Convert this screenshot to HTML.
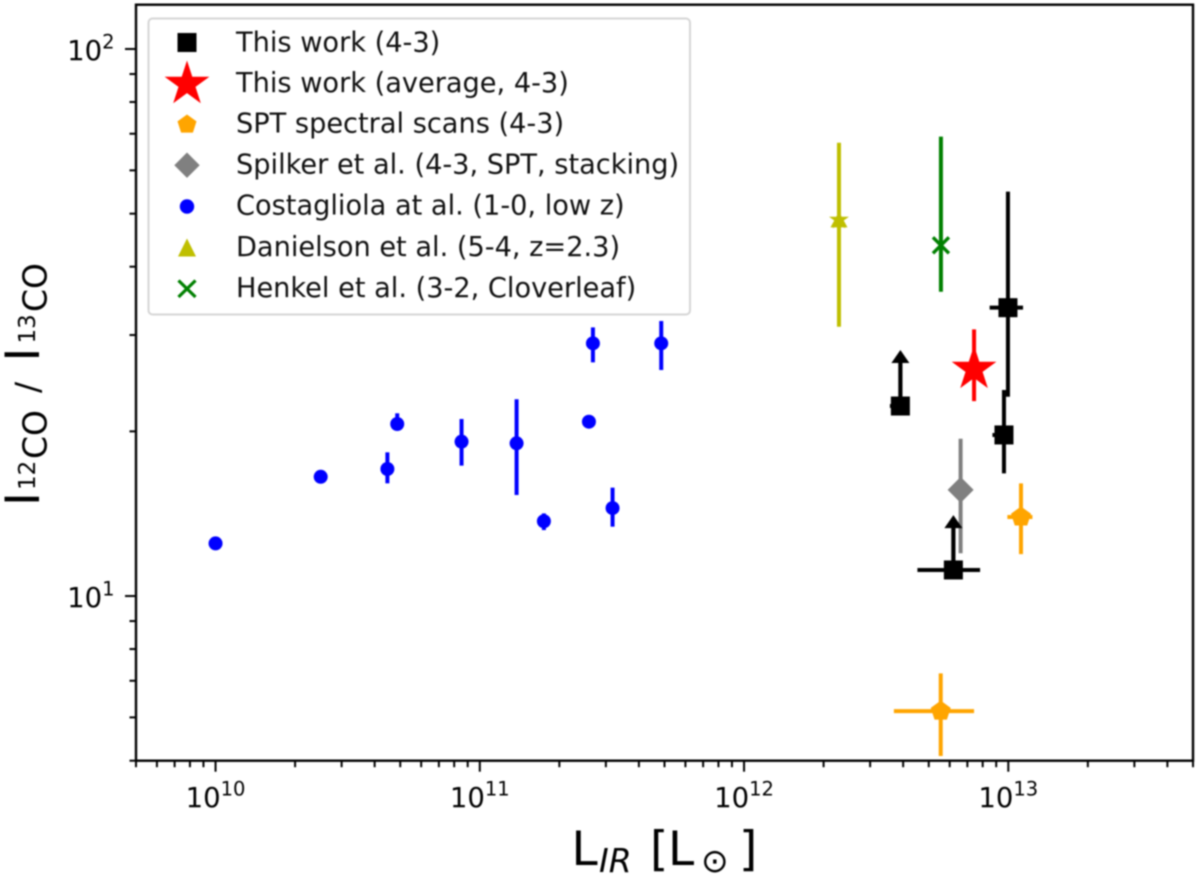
<!DOCTYPE html>
<html lang="en">
<head>
<meta charset="utf-8">
<title>12CO / 13CO ratio versus infrared luminosity</title>
<style>
html,body{margin:0;padding:0;background:#fff;}
svg{display:block;filter:blur(0.7px);}
text{font-family:"DejaVu Sans","Liberation Sans",sans-serif;fill:#000;}
.leg text{font-size:27.2px;fill:#111;}
</style>
</head>
<body>
<svg id="chart" width="1200" height="879" viewBox="0 0 1200 879" xmlns="http://www.w3.org/2000/svg">
  <rect x="0" y="0" width="1200" height="879" fill="#fff"/>
  <g id="ticks"></g>
  <g id="marks"></g>
  <rect x="136" y="4.7" width="1057" height="756" fill="none" stroke="#000" stroke-width="2.4"/>

  <g class="leg">
    <rect x="148.5" y="18.5" width="541.5" height="296" rx="4" fill="#fff" fill-opacity="0.9" stroke="#d5d5d5" stroke-width="2"/>
    <g>
      <rect x="177.5" y="33" width="19" height="19" fill="#000"/>
      <text x="236" y="51.5">This work (4-3)</text>
    </g>
    <g>
      <polygon fill="#f00" points="187,60.5 192.3,76.8 209.4,76.8 195.5,86.9 200.8,103.2 187,93.1 173.2,103.2 178.5,86.9 164.6,76.8 181.7,76.8"/>
      <text x="236" y="92">This work (average, 4-3)</text>
    </g>
    <g>
      <polygon fill="#ffa500" points="187,114.5 196.5,121.4 192.9,132.6 181.1,132.6 177.5,121.4"/>
      <text x="236" y="132.5">SPT spectral scans (4-3)</text>
    </g>
    <g>
      <polygon fill="#808080" points="187,152.5 199.7,165.2 187,177.9 174.3,165.2"/>
      <text x="236" y="173.5">Spilker et al. (4-3, SPT, stacking)</text>
    </g>
    <g>
      <circle cx="187" cy="206.5" r="7.2" fill="#00f"/>
      <text x="236" y="214.5">Costagliola at al. (1-0, low z)</text>
    </g>
    <g>
      <polygon fill="#bfbf00" points="187,238.5 196,256.5 178,256.5"/>
      <text x="236" y="256">Danielson et al. (5-4, z=2.3)</text>
    </g>
    <g>
      <path d="M178.5,280.5 L195.5,297 M195.5,280.5 L178.5,297" stroke="#008000" stroke-width="3.2" fill="none"/>
      <text x="236" y="297">Henkel et al. (3-2, Cloverleaf)</text>
    </g>
  </g>

  <text y="865" font-size="47">
    <tspan x="571.5">L</tspan><tspan x="599" y="872" font-size="33" font-style="italic">IR</tspan><tspan x="650" y="865">[</tspan><tspan x="668">L</tspan><tspan x="701" y="872" font-size="33">⊙</tspan><tspan x="739" y="865">]</tspan>
  </text>
  <text transform="rotate(-90)">
    <tspan x="-506" y="39" font-size="47">I</tspan><tspan x="-490" y="35" font-size="23">12</tspan><tspan x="-459" y="46.5" font-size="33">CO</tspan><tspan x="-393" y="39" font-size="33">/</tspan><tspan x="-361.5" y="39" font-size="47">I</tspan><tspan x="-343.5" y="35" font-size="23">13</tspan><tspan x="-312" y="46.5" font-size="33">CO</tspan>
  </text>
</svg>

<script>
// Axis domains and tick labels
const xDomain = [5e9, 5e13];
const yDomain = [5, 120.5];
const xTickExponents = [10, 11, 12, 13];
const yTickExponents = [1, 2];
const minorMultipliers = [2, 3, 4, 5, 6, 7, 8, 9];

// This work (4-3)
const workX = [9.97e12, 9.63e12, 3.905e12, 6.197e12];
const workY = [33.66, 19.70, 22.25, 11.16];
const workYLow = [23.14, 16.76, 22.25, 11.16];
const workYHigh = [54.85, 23.80, 22.25, 11.16];
const workXLow = [8.50e12, 8.71e12, 3.565e12, 4.53e12];
const workXHigh = [1.137e13, 1.0e13, 4.09e12, 7.82e12];
const workLowerLimitTo = [null, null, 28.17, 14.06];

// This work (average)
const averageX = [7.42e12];
const averageY = [26.25];
const averageYLow = [22.72];
const averageYHigh = [30.73];

// SPT spectral scans
const sptX = [1.117e13, 5.55e12];
const sptY = [13.95, 6.16];
const sptYLow = [11.93, 5.10];
const sptYHigh = [16.07, 7.22];
const sptXLow = [9.92e12, 3.69e12];
const sptXHigh = [1.234e13, 7.42e12];

// Spilker et al.
const spilkerX = [6.60e12];
const spilkerY = [15.63];
const spilkerYLow = [11.97];
const spilkerYHigh = [19.39];

// Costagliola et al.
const costaX = [1.0e10, 2.5e10, 4.47e10, 4.87e10, 8.53e10, 1.378e11, 1.748e11, 2.588e11, 3.18e11, 2.68e11, 4.86e11];
const costaY = [12.48, 16.52, 17.07, 20.63, 19.15, 19.02, 13.70, 20.83, 14.48, 28.97, 28.97];
const costaYLow = [12.48, 16.52, 16.07, 20.12, 17.31, 15.30, 13.20, 20.83, 13.39, 26.74, 25.89];
const costaYHigh = [12.48, 16.52, 18.31, 21.58, 21.07, 22.89, 14.16, 20.83, 15.78, 30.98, 31.82];

// Danielson et al.
const danielsonX = [2.287e12];
const danielsonY = [48.7];
const danielsonYLow = [31.06];
const danielsonYHigh = [67.4];

// Henkel et al.
const henkelX = [5.56e12];
const henkelY = [43.77];
const henkelYLow = [35.99];
const henkelYHigh = [69.14];

const NS = 'http://www.w3.org/2000/svg';
const LEFT = 136, RIGHT = 1193, TOP = 4.7, BOTTOM = 760.7;
function xScale(v) {
  const a = Math.log10(xDomain[0]), b = Math.log10(xDomain[1]);
  return LEFT + (Math.log10(v) - a) / (b - a) * (RIGHT - LEFT);
}
function yScale(v) {
  const a = Math.log10(yDomain[0]), b = Math.log10(yDomain[1]);
  return BOTTOM - (Math.log10(v) - a) / (b - a) * (BOTTOM - TOP);
}
function node(tag, parent) {
  const el = document.createElementNS(NS, tag);
  parent.appendChild(el);
  return el;
}
function seg(parent, x1, y1, x2, y2, color, width) {
  const el = node('line', parent);
  el.setAttribute('x1', x1);
  el.setAttribute('y1', y1);
  el.setAttribute('x2', x2);
  el.setAttribute('y2', y2);
  el.setAttribute('stroke', color);
  el.setAttribute('stroke-width', width);
  return el;
}
function regular(cx, cy, r, n, rot) {
  const p = [];
  for (let i = 0; i < n; i++) {
    const t = rot + i * 2 * Math.PI / n;
    p.push((cx + r * Math.sin(t)).toFixed(2) + ',' + (cy - r * Math.cos(t)).toFixed(2));
  }
  return p.join(' ');
}
function star(cx, cy, r) {
  const p = [];
  for (let i = 0; i < 10; i++) {
    const q = i % 2 ? r * 0.382 : r;
    const t = i * Math.PI / 5;
    p.push((cx + q * Math.sin(t)).toFixed(2) + ',' + (cy - q * Math.cos(t)).toFixed(2));
  }
  return p.join(' ');
}

// Ticks
const ticks = document.getElementById('ticks');
for (let e = 9; e <= 13; e++) {
  const vals = [1].concat(minorMultipliers).map(m => m * Math.pow(10, e));
  vals.forEach((v, i) => {
    if (v < xDomain[0] * 0.999 || v > xDomain[1] * 1.001) return;
    const px = xScale(v);
    const t = seg(ticks, px, BOTTOM, px, BOTTOM + (i === 0 ? 11 : 6.5), '#000', 2);
    
    
  });
}
for (let e = 0; e <= 2; e++) {
  const vals = [1].concat(minorMultipliers).map(m => m * Math.pow(10, e));
  vals.forEach((v, i) => {
    if (v < yDomain[0] * 0.999 || v > yDomain[1] * 1.001) return;
    const py = yScale(v);
    const t = seg(ticks, LEFT, py, LEFT - (i === 0 ? 11 : 6.5), py, '#000', 2);
    
    
  });
}
function powerLabel(parent, exp, x, y, anchor) {
  const el = node('text', parent);
  el.setAttribute('x', x);
  el.setAttribute('y', y);
  el.setAttribute('text-anchor', anchor);
  el.setAttribute('font-size', '27.5');
  el.appendChild(document.createTextNode('10'));
  const s = node('tspan', el);
  s.setAttribute('font-size', '19.5');
  s.setAttribute('dy', '-11.5');
  s.textContent = String(exp);
  return el;
}
xTickExponents.forEach(exp => {
  const l = powerLabel(ticks, exp, xScale(Math.pow(10, exp)), 807, 'middle');
  
  
});
yTickExponents.forEach(exp => {
  const l = powerLabel(ticks, exp, 114.5, yScale(Math.pow(10, exp)) + 11, 'end');
  
  
});

// Series
const marks = document.getElementById('marks');
function errorBars(g, i, color, xs, ys, yLow, yHigh, xLow, xHigh) {
  const px = xScale(xs[i]), py = yScale(ys[i]);
  const v = seg(g, px, yScale(yLow[i]), px, yScale(yHigh[i]), color, 4);
  
  
  if (xLow) {
    const h = seg(g, xScale(xLow[i]), py, xScale(xHigh[i]), py, color, 4);
    
    
  }
}

// Costagliola
const costaGroup = node('g', marks);


costaX.forEach((x, i) => {
  errorBars(costaGroup, i, '#00f', costaX, costaY, costaYLow, costaYHigh);
  const c = node('circle', costaGroup);
  
  
  c.setAttribute('cx', xScale(x));
  c.setAttribute('cy', yScale(costaY[i]));
  c.setAttribute('r', 7);
  c.setAttribute('fill', '#00f');
});

// Danielson
const danielsonGroup = node('g', marks);


danielsonX.forEach((x, i) => {
  errorBars(danielsonGroup, i, '#bfbf00', danielsonX, danielsonY, danielsonYLow, danielsonYHigh);
  const px = xScale(x), py = yScale(danielsonY[i]);
  const s = node('polygon', danielsonGroup);
  
  
  s.setAttribute('points', star(px, py, 10.5));
  s.setAttribute('fill', '#bfbf00');
  const t = node('polygon', danielsonGroup);
  
  
  t.setAttribute('points', (px) + ',' + (py - 8) + ' ' + (px + 8.5) + ',' + (py + 7.5) + ' ' + (px - 8.5) + ',' + (py + 7.5));
  t.setAttribute('fill', '#bfbf00');
});

// Henkel
const henkelGroup = node('g', marks);


henkelX.forEach((x, i) => {
  errorBars(henkelGroup, i, '#008000', henkelX, henkelY, henkelYLow, henkelYHigh);
  const px = xScale(x), py = yScale(henkelY[i]);
  const c = node('path', henkelGroup);
  
  
  c.setAttribute('d', 'M' + (px - 8) + ',' + (py - 8) + 'L' + (px + 8) + ',' + (py + 8) + 'M' + (px + 8) + ',' + (py - 8) + 'L' + (px - 8) + ',' + (py + 8));
  c.setAttribute('stroke', '#008000');
  c.setAttribute('stroke-width', 3.4);
  c.setAttribute('fill', 'none');
});

// Spilker
const spilkerGroup = node('g', marks);


spilkerX.forEach((x, i) => {
  errorBars(spilkerGroup, i, '#808080', spilkerX, spilkerY, spilkerYLow, spilkerYHigh);
  const d = node('polygon', spilkerGroup);
  
  
  d.setAttribute('points', regular(xScale(x), yScale(spilkerY[i]), 13, 4, 0));
  d.setAttribute('fill', '#808080');
});

// SPT
const sptGroup = node('g', marks);


sptX.forEach((x, i) => {
  errorBars(sptGroup, i, '#ffa500', sptX, sptY, sptYLow, sptYHigh, sptXLow, sptXHigh);
  const p = node('polygon', sptGroup);
  
  
  p.setAttribute('points', regular(xScale(x), yScale(sptY[i]), 10.5, 5, 0));
  p.setAttribute('fill', '#ffa500');
});

// This work
const workGroup = node('g', marks);


workX.forEach((x, i) => {
  errorBars(workGroup, i, '#000', workX, workY, workYLow, workYHigh, workXLow, workXHigh);
  const px = xScale(x), py = yScale(workY[i]);
  if (workLowerLimitTo[i] !== null) {
    const tip = yScale(workLowerLimitTo[i]);
    const shaft = seg(workGroup, px, py, px, tip + 8, '#000', 4.2);
    
    
    const head = node('polygon', workGroup);
    
    
    head.setAttribute('points', px + ',' + tip + ' ' + (px + 9) + ',' + (tip + 13) + ' ' + (px - 9) + ',' + (tip + 13));
    head.setAttribute('fill', '#000');
  }
  const s = node('rect', workGroup);
  
  
  s.setAttribute('x', px - 9.5);
  s.setAttribute('y', py - 9.5);
  s.setAttribute('width', 19);
  s.setAttribute('height', 19);
  s.setAttribute('fill', '#000');
});

// Average
const averageGroup = node('g', marks);


averageX.forEach((x, i) => {
  errorBars(averageGroup, i, '#f00', averageX, averageY, averageYLow, averageYHigh);
  const s = node('polygon', averageGroup);
  
  
  s.setAttribute('points', star(xScale(x), yScale(averageY[i]) + 2.3, 23.5));
  s.setAttribute('fill', '#f00');
});
</script>
</body>
</html>
